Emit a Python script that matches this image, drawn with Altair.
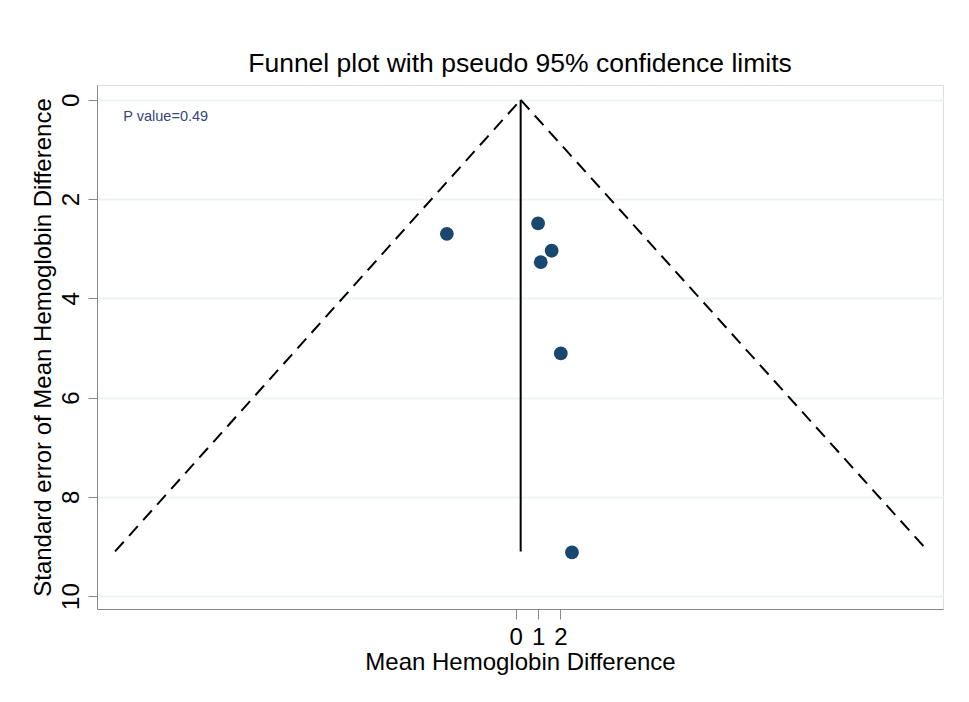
import altair as alt
import pandas as pd

# Study estimates
effect = [-3.09, 1.00, 1.61, 1.12, 2.02, 2.52]
se = [2.70, 2.49, 3.04, 3.27, 5.11, 9.12]

pooled = 0.22
se_max = 9.10
funnel_left_x = -17.97
funnel_right_x = 18.50

x_ticks = [0, 1, 2]
y_ticks = [0, 2, 4, 6, 8, 10]
x_domain = [-18.78, 19.16]
y_domain = [-0.30, 10.26]

title_text = "Funnel plot with pseudo 95% confidence limits"
x_title = "Mean Hemoglobin Difference"
y_title = "Standard error of Mean Hemoglobin Difference"
p_text = "P value=0.49"

FONT = "Liberation Sans"
NAVY = "#1a476f"

pts = pd.DataFrame({"effect": effect, "se": se})
funnel = pd.DataFrame({
    "effect": [pooled, funnel_left_x, pooled, funnel_right_x],
    "se": [0, se_max, 0, se_max],
    "side": ["left", "left", "right", "right"],
})
vline = pd.DataFrame({"effect": [pooled], "se0": [0], "se1": [se_max]})
ann = pd.DataFrame({"effect": [-17.6], "se": [0.35], "label": [p_text]})

xscale = alt.Scale(domain=x_domain, nice=False, zero=False)
yscale = alt.Scale(domain=y_domain, nice=False, zero=False, reverse=True)

xaxis = alt.Axis(values=x_ticks, title=x_title, grid=False, labelFontSize=24,
                 titleFontSize=24, titleFontWeight="normal", tickSize=10,
                 labelPadding=6, titlePadding=1,
                 labelFlush=False, labelOverlap=False)
yaxis = alt.Axis(values=y_ticks, title=y_title, grid=True, labelFontSize=24,
                 titleFontSize=24, titleFontWeight="normal", tickSize=9,
                 labelAngle=270, labelAlign="center",
                 labelBaseline="bottom", labelPadding=5, titlePadding=4,
                 gridColor="#edf3f5", gridWidth=2)

base_x = alt.X("effect:Q", scale=xscale, axis=xaxis)
base_y = alt.Y("se:Q", scale=yscale, axis=yaxis)

lines = alt.Chart(funnel).mark_line(
    color="black", strokeWidth=2, strokeDash=[13, 8]
).encode(x=base_x, y=base_y, detail="side:N")

rule = alt.Chart(vline).mark_rule(color="black", strokeWidth=2).encode(
    x=alt.X("effect:Q", scale=xscale),
    y=alt.Y("se0:Q", scale=yscale),
    y2="se1:Q",
)

points = alt.Chart(pts).mark_circle(size=190, color=NAVY, opacity=1).encode(
    x=alt.X("effect:Q", scale=xscale), y=alt.Y("se:Q", scale=yscale)
)

text = alt.Chart(ann).mark_text(
    align="left", baseline="middle", fontSize=14.5, color="#33477a", font=FONT
).encode(x=alt.X("effect:Q", scale=xscale), y=alt.Y("se:Q", scale=yscale), text="label:N")

chart = alt.layer(lines, rule, points, text).properties(
    width=846,
    height=524,
    title=alt.TitleParams(title_text, anchor="middle", fontSize=26.5,
                          font=FONT, fontWeight="normal", color="black", offset=8),
    autosize=alt.AutoSizeParams(type="none"),
    padding={"left": 89, "top": 77, "right": 10, "bottom": 70},
).configure_view(stroke=None).configure_axis(
    labelFont=FONT, titleFont=FONT, labelColor="black", titleColor="black",
    titleFontWeight="normal", domainColor="#333333", domainWidth=2,
    tickColor="#333333", tickWidth=1.5,
).configure(background="white")

chart.save("out.html", embed_options={"renderer": "svg", "actions": False})
